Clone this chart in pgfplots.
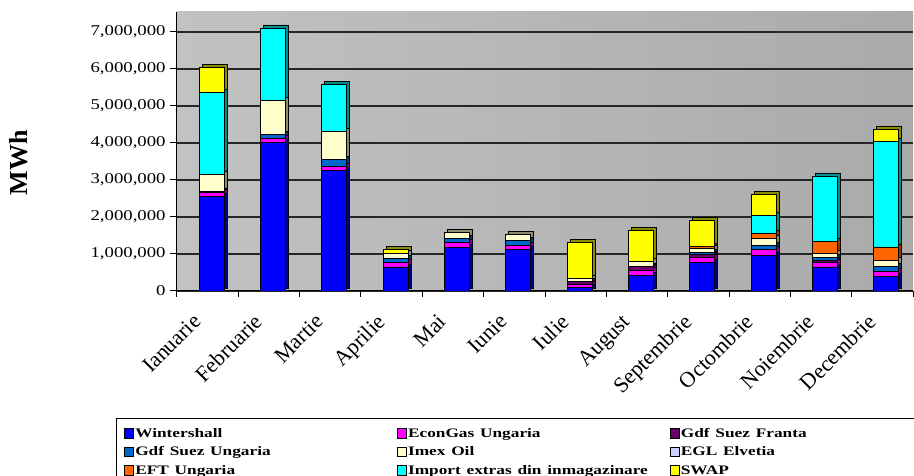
\documentclass[border=0pt]{standalone}
\usepackage{fontspec}
\setmainfont{Liberation Serif}
\usepackage{pgfplots}
\usepackage{pgfplotstable}
\pgfplotsset{compat=1.18}

\definecolor{cWin}{RGB}{0,0,255}
\definecolor{cEcon}{RGB}{255,0,255}
\definecolor{cGSF}{RGB}{102,0,102}
\definecolor{cGSU}{RGB}{0,102,204}
\definecolor{cImex}{RGB}{255,255,204}
\definecolor{cEGL}{RGB}{204,204,255}
\definecolor{cEFT}{RGB}{255,102,0}
\definecolor{cImp}{RGB}{0,255,255}
\definecolor{cSwap}{RGB}{255,255,0}

\newcommand{\wide}[1]{\scalebox{1.33}[1]{#1}}

% values in MWh, one row per month (0 = Ianuarie)
\pgfplotstableread{
m  win     econ   gsf   gsu    imex   egl eft    imp     swap
0  2550000 110000 20000 0      480000 0   0      2210000 680000
1  4010000 120000 0     100000 920000 0   0      1960000 0
2  3250000 110000 0     200000 750000 0   0      1270000 0
3  650000  120000 0     120000 120000 0   0      0       120000
4  1180000 120000 0     120000 160000 0   0      0       0
5  1120000 110000 0     130000 160000 0   0      0       0
6  100000  80000  70000 0      90000  0   0      0       980000
7  420000  150000 90000 0      150000 0   0      0       830000
8  780000  140000 60000 50000  110000 0   60000  0       700000
9  950000  180000 0     110000 180000 0   140000 490000  570000
10 650000  120000 60000 80000  100000 0   330000 1770000 0
11 400000  120000 0     150000 160000 0   360000 2860000 320000
}\gaz

\pgfplotsset{
  common/.style={
    at={(177pt,185pt)}, anchor=south west,
    scale only axis, width=736pt, height=279pt,
    ybar stacked, bar width=25pt, bar shift=4pt,
    xmin=-0.5, xmax=11.5, ymin=0, ymax=7540000,
    ytick={0,1000000,...,7000000}, scaled y ticks=false,
    every axis plot/.append style={draw=black, line width=0.8pt},
  },
}

\begin{document}
\begin{tikzpicture}[x=1pt,y=1pt]
\path[use as bounding box] (0,0) rectangle (914,476);
% back: wall, grid and the dark side faces of the bars
\begin{axis}[common,
  axis background/.style={shade, left color={rgb,255:red,194;green,194;blue,194}, right color={rgb,255:red,170;green,170;blue,170}},
  axis line style={draw=none}, tick style={draw=none},
  yticklabels={}, xtick=\empty,
  ymajorgrids, major grid style={black!85, line width=1.2pt},
  every axis plot/.append style={yshift=3pt, xshift=3pt},
]
\addplot[fill=cWin!55!black]  table[x=m,y=win]  {\gaz};
\addplot[fill=cEcon!55!black] table[x=m,y=econ] {\gaz};
\addplot[fill=cGSF!55!black]  table[x=m,y=gsf]  {\gaz};
\addplot[fill=cGSU!55!black]  table[x=m,y=gsu]  {\gaz};
\addplot[fill=cImex!55!black] table[x=m,y=imex] {\gaz};
\addplot[fill=cEGL!55!black]  table[x=m,y=egl]  {\gaz};
\addplot[fill=cEFT!55!black]  table[x=m,y=eft]  {\gaz};
\addplot[fill=cImp!55!black]  table[x=m,y=imp]  {\gaz};
\addplot[fill=cSwap!55!black] table[x=m,y=swap] {\gaz};
\end{axis}
% front
\begin{axis}[common,
  axis lines*=left, axis line style={-, black, line width=1pt},
  yticklabel style={font=\fontsize{15}{17}\selectfont, xscale=1.25, /pgf/number format/.cd, fixed, 1000 sep={,}, assume math mode=true},
  xtick={0,...,11},
  xticklabels={Ianuarie,Februarie,Martie,Aprilie,Mai,Iunie,Iulie,August,Septembrie,Octombrie,Noiembrie,Decembrie},
  xticklabel style={xshift=-16pt, yshift=-13pt, rotate=45, anchor=north east, font=\fontsize{22}{24}\selectfont, inner sep=1pt},
  minor xtick={-0.5,0.5,...,11.5},
  major x tick style={draw=none},
  tick align=outside, major tick length=7pt, minor tick length=6pt,
  tick style={black, line width=1pt},
  ylabel={\textbf{MWh}},
  ylabel style={at={(axis description cs:-0.2147,0.459)}, anchor=center, font=\fontsize{26}{28}\selectfont},
  legend columns=3,
  legend cell align=left,
  legend image code/.code={\draw[#1, draw=black] (0pt,-4.5pt) rectangle (9pt,5pt);},
  legend style={at={(axis description cs:-0.0829,-0.455)}, anchor=north west,
    draw=black, line width=1pt, inner xsep=8pt, inner ysep=7pt, row sep=2pt,
    font=\bfseries\fontsize{13}{15}\selectfont,
    nodes={inner sep=1pt, text height=11pt, text depth=3.5pt, text width=261pt}},
]
\addplot[fill=cWin]  table[x=m,y=win]  {\gaz}; \addlegendentry{\wide{Wintershall}}
\addplot[fill=cEcon] table[x=m,y=econ] {\gaz}; \addlegendentry{\wide{EconGas Ungaria}}
\addplot[fill=cGSF]  table[x=m,y=gsf]  {\gaz}; \addlegendentry{\wide{Gdf Suez Franta}}
\addplot[fill=cGSU]  table[x=m,y=gsu]  {\gaz}; \addlegendentry{\wide{Gdf Suez Ungaria}}
\addplot[fill=cImex] table[x=m,y=imex] {\gaz}; \addlegendentry{\wide{Imex Oil}}
\addplot[fill=cEGL]  table[x=m,y=egl]  {\gaz}; \addlegendentry{\wide{EGL Elvetia}}
\addplot[fill=cEFT]  table[x=m,y=eft]  {\gaz}; \addlegendentry{\wide{EFT Ungaria}}
\addplot[fill=cImp]  table[x=m,y=imp]  {\gaz}; \addlegendentry{\wide{Import extras din inmagazinare}}
\addplot[fill=cSwap] table[x=m,y=swap] {\gaz}; \addlegendentry{\wide{SWAP}}
\end{axis}
\end{tikzpicture}
\end{document}
